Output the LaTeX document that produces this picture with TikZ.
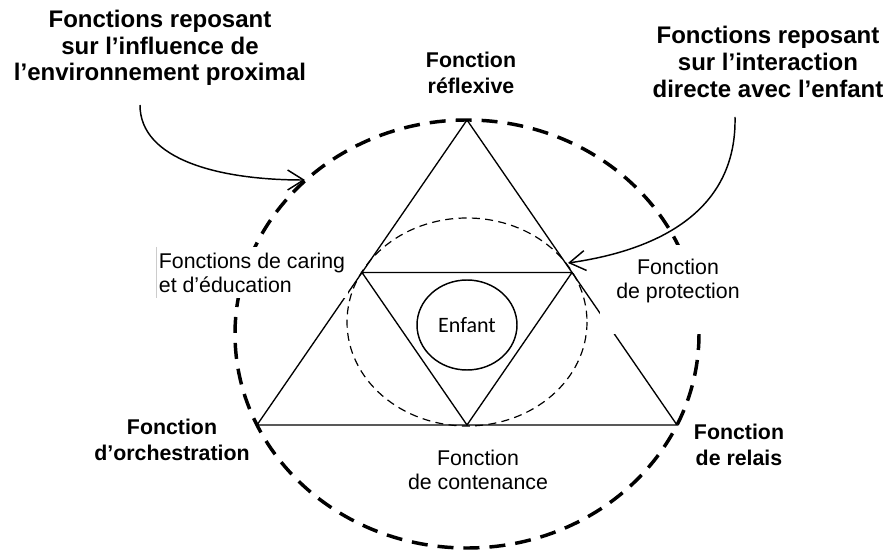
\documentclass[tikz,border=0pt]{standalone}
\usepackage{fontspec}
\setmainfont{Liberation Sans}
\newfontfamily\enfantfont{Carlito}
\usetikzlibrary{arrows.meta,shapes.geometric}

\begin{document}
\begin{tikzpicture}[
    x=0.75pt, y=-0.75pt,
    % Style for the triangle edges
    edge/.style={line width=1pt, line join=miter},
    % Styles for the two dashed rings
    outer ring/.style={line width=2.6pt, dash pattern=on 12pt off 7.5pt},
    inner ring/.style={line width=0.9pt, dash pattern=on 6pt off 4pt},
    % Styles for the labels
    big label/.style={align=center, inner sep=0pt, font=\fontsize{18}{20}\selectfont\bfseries},
    corner label/.style={align=center, inner sep=0pt, font=\fontsize{16}{19}\selectfont\bfseries},
    side label/.style={align=center, inner sep=0pt, font=\fontsize{16}{18}\selectfont},
    % Style for the curved arrows
    pointer/.style={line width=1.1pt, -{Straight Barb[length=12pt, width=15pt]}}
]
    \useasboundingbox (0,0) rectangle (886,552);

    % --- 1. Define Coordinates ---
    \coordinate (apex) at (467,120);
    \coordinate (bl) at (257,425);
    \coordinate (br) at (677,425);

    \coordinate (ml) at (362,272.5);
    \coordinate (mr) at (572,272.5);
    \coordinate (mb) at (467,425);

    % --- 2. Draw the Rings ---
    \draw[outer ring] (467,334) ellipse [x radius=232, y radius=214];
    \draw[inner ring] (467,322) ellipse [x radius=120, y radius=104];

    % --- 3. Draw the Triangles ---
    \draw[edge] (apex) -- (bl) -- (br) -- cycle;
    \draw[edge] (ml) -- (mr) -- (mb) -- cycle;

    \node[draw, ellipse, line width=1.1pt, minimum width=75pt, minimum height=67.5pt,
          inner sep=0pt, font=\enfantfont\fontsize{16.5}{19}\selectfont] (enfant) at (467,325) {Enfant};

    % --- 4. Draw the Labels ---
    % White boxes hide the ring behind them
    \node[side label, anchor=north west, fill=white, align=left, inner xsep=2pt, inner ysep=4pt]
          (caring) at (156,247) {Fonctions de caring\\et d’éducation};
    \draw[black!20, line width=0.6pt] (caring.north west) -- (caring.south west);

    \fill[white] (600,245) rectangle (750,334);
    \node[side label] (protection) at (678,281) {Fonction\\de protection};

    \node[big label] (influence) at (160,48) {Fonctions reposant\\sur l’influence de\\l’environnement proximal};
    \node[big label] (interaction) at (768,62) {Fonctions reposant\\sur l’interaction\\directe avec l’enfant};

    \node[corner label] (reflexive) at (471,73) {Fonction\\réflexive};
    \node[corner label] (orchestration) at (172,440) {Fonction\\d’orchestration};
    \node[corner label] (relais) at (739,445) {Fonction\\de relais};
    \node[side label] (contenance) at (478,470) {Fonction\\de contenance};

    % --- 5. Draw the Arrows ---
    \coordinate (influence tail) at (140,105);
    \coordinate (influence tip) at (305,180);
    \coordinate (interaction tail) at (735,117);
    \coordinate (interaction tip) at (568,263);

    \draw[pointer] (influence tail) .. controls (140,160) and (220,180) .. (influence tip);
    \draw[pointer] (interaction tail) .. controls (737,210) and (660,250) .. (interaction tip);

\end{tikzpicture}
\end{document}
